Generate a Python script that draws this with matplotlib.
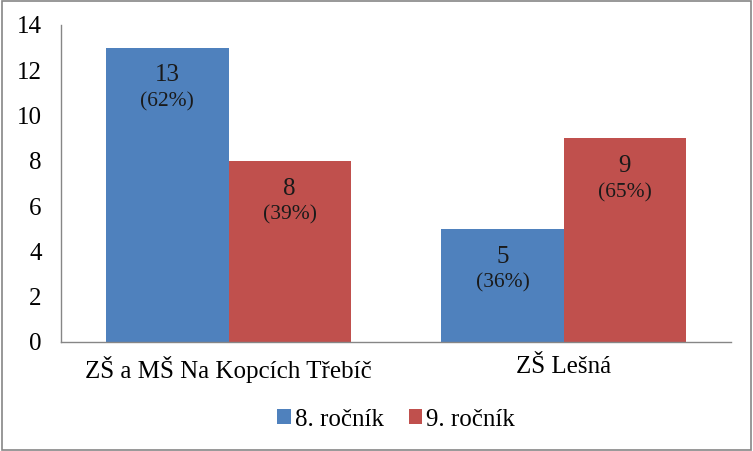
import matplotlib
matplotlib.use('Agg')
import matplotlib.pyplot as plt
from matplotlib.patches import Rectangle
import numpy as np

categories = ['ZŠ a MŠ Na Kopcích Třebíč', 'ZŠ Lešná']
series_names = ['8. ročník', '9. ročník']
counts_8 = [13, 5]
counts_9 = [8, 9]
pct_8 = ['62%', '36%']
pct_9 = ['39%', '65%']
yticks = [0, 2, 4, 6, 8, 10, 12, 14]

colors = ['#4F81BD', '#C0504D']
plt.rcParams['font.family'] = 'Liberation Serif'

fig = plt.figure(figsize=(7.53, 4.51), dpi=100)
ax = fig.add_axes([0.081, 0.2417, 0.89, 0.7029])

x = np.arange(len(categories))
w = 0.365
b1 = ax.bar(x - w / 2, counts_8, w, color=colors[0], label=series_names[0])
b2 = ax.bar(x + w / 2, counts_9, w, color=colors[1], label=series_names[1])

for bars, vals, pcts in [(b1, counts_8, pct_8), (b2, counts_9, pct_9)]:
    for bar, v, p in zip(bars, vals, pcts):
        cx = bar.get_x() + bar.get_width() / 2
        ax.annotate(str(v), (cx, v), xytext=(0, -20), textcoords='offset points',
                    ha='center', va='center', fontsize=18, color='#1a1a1a')
        ax.annotate('(' + p + ')', (cx, v), xytext=(0, -39), textcoords='offset points',
                    ha='center', va='center', fontsize=15.5, color='#1a1a1a')

ax.set_xlim(-0.5, 1.5)
ax.set_ylim(0, 14)
ax.set_yticks(yticks)
ax.set_xticks(x)
ax.set_xticklabels(categories, fontsize=18)
ax.tick_params(axis='y', length=0, pad=14, labelsize=18)
ax.tick_params(axis='x', length=0, pad=10)
for s in ['top', 'right']:
    ax.spines[s].set_visible(False)
for s in ['left', 'bottom']:
    ax.spines[s].set_color('#868686')
    ax.spines[s].set_linewidth(1)

ax.legend(loc='center', bbox_to_anchor=(0.5, -0.245), ncol=2, frameon=False,
          fontsize=18, handlelength=0.55, handleheight=0.55, handletextpad=0.15,
          columnspacing=1.0)

fig.patches.append(Rectangle((0.002, 0.003), 0.995, 0.994, transform=fig.transFigure,
                             fill=False, edgecolor='#868686', linewidth=1.2))

plt.savefig('out.png', dpi=100)
plt.close(fig)
